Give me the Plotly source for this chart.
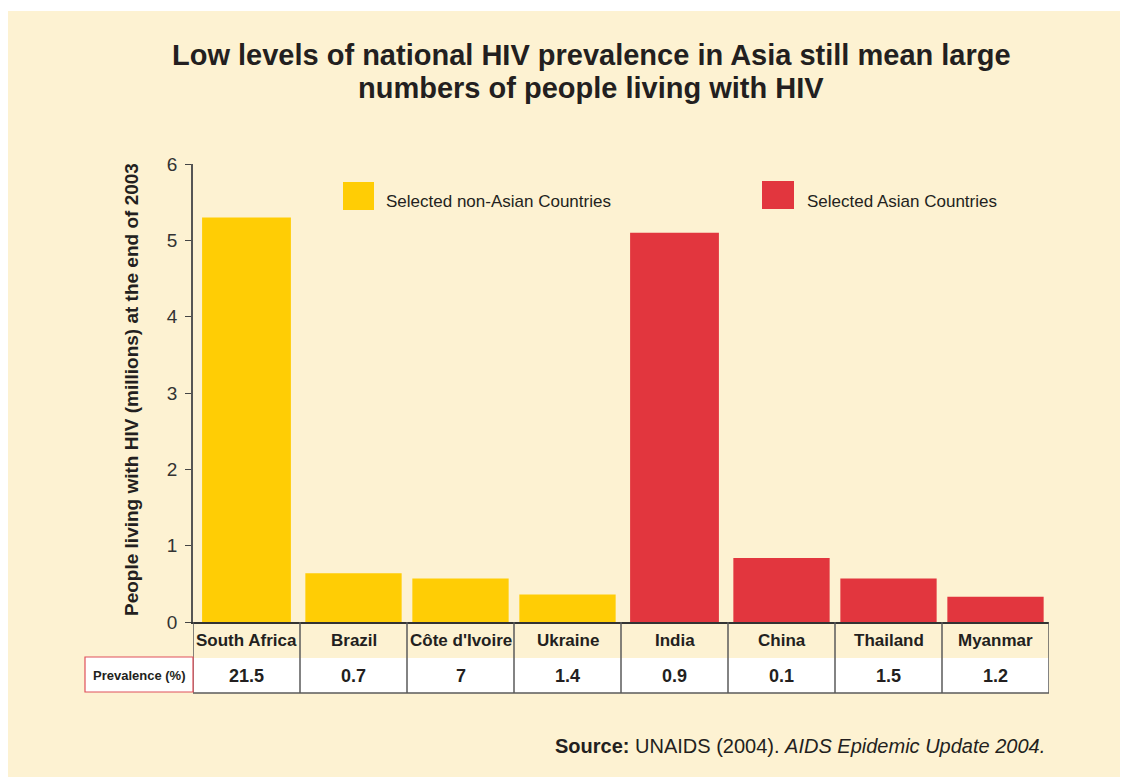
import plotly.graph_objects as go

# ---- data ----
non_asian_countries = ["South Africa", "Brazil", "Côte d'Ivoire", "Ukraine"]
non_asian_values = [5.3, 0.64, 0.57, 0.36]
asian_countries = ["India", "China", "Thailand", "Myanmar"]
asian_values = [5.1, 0.84, 0.57, 0.33]
countries = non_asian_countries + asian_countries
prevalence = ["21.5", "0.7", "7", "1.4", "0.9", "0.1", "1.5", "1.2"]
y_ticks = [0, 1, 2, 3, 4, 5, 6]

# ---- style ----
OFF = 8  # page body margin
W, H = 1120, 770
# plot area in page pixels
PL, PR, PT, PB = 193, 1049, 164, 622
L, R, T, B = PL - OFF, PR - OFF, PT - OFF, PB - OFF
YELLOW = "#FFCD05"
RED = "#E2363E"
BEIGE = "#FDF2D2"
TXT = "#231F20"
SANS = "Liberation Sans, Arial, Helvetica"


def px_x(px):
    return (px - PL) / (PR - PL)


def px_y(py):
    return (PB - py) / (PB - PT)


fig = go.Figure()
fig.add_trace(go.Bar(x=non_asian_countries, y=non_asian_values, marker_color=YELLOW,
                     marker_line_width=0, width=[0.83, 0.9, 0.9, 0.9],
                     name="Selected non-Asian Countries", showlegend=False))
fig.add_trace(go.Bar(x=asian_countries, y=asian_values, marker_color=RED,
                     marker_line_width=0, width=[0.83, 0.9, 0.9, 0.9],
                     name="Selected Asian Countries", showlegend=False))

shapes = []
# beige panel
shapes.append(dict(type="rect", xref="paper", yref="paper", x0=px_x(7), x1=px_x(1135),
                   y0=px_y(777), y1=px_y(11), fillcolor=BEIGE, line_width=0, layer="below"))
# table: header row (beige) and value row (white)
n = len(countries)
shapes.append(dict(type="rect", xref="x", yref="paper", x0=-0.5, x1=n - 0.5,
                   y0=px_y(658), y1=px_y(622), fillcolor=BEIGE, line_width=0, layer="below"))
shapes.append(dict(type="rect", xref="x", yref="paper", x0=-0.5, x1=n - 0.5,
                   y0=px_y(693), y1=px_y(658), fillcolor="white", line_width=0, layer="below"))
for i in range(n + 1):
    shapes.append(dict(type="line", xref="x", yref="paper", x0=i - 0.5, x1=i - 0.5,
                       y0=px_y(693), y1=px_y(622), line=dict(color="#5a5a5a", width=1.5)))
shapes.append(dict(type="line", xref="x", yref="paper", x0=-0.5, x1=n - 0.5,
                   y0=px_y(693), y1=px_y(693), line=dict(color="#5a5a5a", width=1.5)))
# prevalence label box
shapes.append(dict(type="rect", xref="paper", yref="paper", x0=px_x(85), x1=px_x(193),
                   y0=px_y(692), y1=px_y(657), fillcolor="white",
                   line=dict(color="#E0505A", width=1.2)))
# legend squares
shapes.append(dict(type="rect", xref="paper", yref="paper", x0=px_x(343), x1=px_x(374),
                   y0=px_y(210), y1=px_y(182), fillcolor=YELLOW, line_width=0))
shapes.append(dict(type="rect", xref="paper", yref="paper", x0=px_x(762), x1=px_x(794),
                   y0=px_y(209), y1=px_y(181), fillcolor=RED, line_width=0))

ann = []
# title (two lines)
ann.append(dict(xref="paper", yref="paper", x=px_x(591), y=px_y(55), xanchor="center",
                yanchor="middle", showarrow=False,
                text="<b>Low levels of national HIV prevalence in Asia still mean large</b>",
                font=dict(family=SANS, size=29, color=TXT)))
ann.append(dict(xref="paper", yref="paper", x=px_x(591), y=px_y(88), xanchor="center",
                yanchor="middle", showarrow=False,
                text="<b>numbers of people living with HIV</b>",
                font=dict(family=SANS, size=29, color=TXT)))
# y title
ann.append(dict(xref="paper", yref="paper", x=px_x(131), y=px_y(390), xanchor="center",
                yanchor="middle", showarrow=False, textangle=-90,
                text="<b>People living with HIV (millions) at the end of 2003</b>",
                font=dict(family=SANS, size=19, color=TXT)))
# legend texts
ann.append(dict(xref="paper", yref="paper", x=px_x(384), y=px_y(201), xanchor="left",
                yanchor="middle", showarrow=False, text="Selected non-Asian Countries",
                font=dict(family=SANS, size=17, color=TXT)))
ann.append(dict(xref="paper", yref="paper", x=px_x(805), y=px_y(201), xanchor="left",
                yanchor="middle", showarrow=False, text="Selected Asian Countries",
                font=dict(family=SANS, size=17, color=TXT)))
# table text
for i, (c, p) in enumerate(zip(countries, prevalence)):
    ann.append(dict(xref="x", yref="paper", x=i, y=px_y(640), xanchor="center",
                    yanchor="middle", showarrow=False, text=f"<b>{c}</b>",
                    font=dict(family=SANS, size=17, color=TXT)))
    ann.append(dict(xref="x", yref="paper", x=i, y=px_y(676), xanchor="center",
                    yanchor="middle", showarrow=False, text=f"<b>{p}</b>",
                    font=dict(family=SANS, size=18, color=TXT)))
ann.append(dict(xref="paper", yref="paper", x=px_x(139), y=px_y(675), xanchor="center",
                yanchor="middle", showarrow=False, text="<b>Prevalence (%)</b>",
                font=dict(family=SANS, size=13, color=TXT)))
# source
ann.append(dict(xref="paper", yref="paper", x=px_x(1047), y=px_y(746), xanchor="right",
                yanchor="middle", showarrow=False,
                text="<b>Source:</b> UNAIDS (2004). <i>AIDS Epidemic Update 2004.</i>",
                font=dict(family=SANS, size=20, color=TXT)))

fig.update_layout(
    width=W, height=H,
    margin=dict(l=L, r=W - R, t=T, b=H - B, pad=0),
    paper_bgcolor="white", plot_bgcolor="white",
    barmode="overlay", showlegend=False,
    shapes=shapes, annotations=ann,
    xaxis=dict(type="category", categoryorder="array", categoryarray=countries,
               range=[-0.5, n - 0.5], showticklabels=False, ticks="",
               showline=True, linecolor="#333333", linewidth=1.5, showgrid=False,
               zeroline=False),
    yaxis=dict(range=[0, 6], tickvals=y_ticks, ticks="outside", ticklen=6,
               tickcolor="#444444", tickwidth=1.2, showline=True, linecolor="#555555",
               linewidth=1.5, showgrid=False, zeroline=False, ticklabelstandoff=4,
               tickfont=dict(family=SANS, size=19, color="#333333")),
)

fig.write_html("out.html")
